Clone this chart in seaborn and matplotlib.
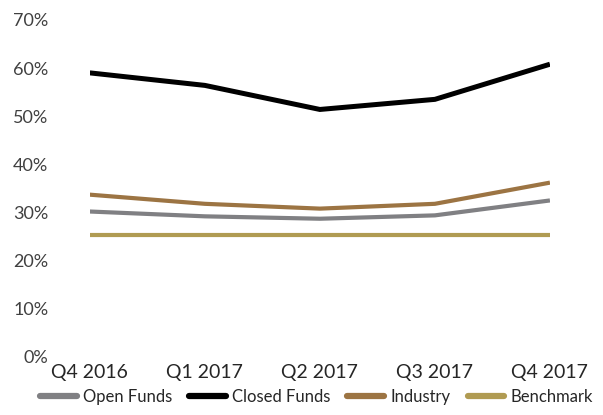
import matplotlib
matplotlib.use("Agg")
import matplotlib.pyplot as plt
import seaborn as sns
import pandas as pd
from matplotlib.ticker import PercentFormatter

quarters = ["Q4 2016", "Q1 2017", "Q2 2017", "Q3 2017", "Q4 2017"]
open_funds = [30.2, 29.2, 28.7, 29.4, 32.5]
closed_funds = [59.0, 56.4, 51.4, 53.5, 60.8]
industry = [33.7, 31.8, 30.8, 31.8, 36.2]
benchmark = [25.4, 25.4, 25.4, 25.4, 25.4]

series_names = ["Open Funds", "Closed Funds", "Industry", "Benchmark"]
series_values = [open_funds, closed_funds, industry, benchmark]
palette = {"Open Funds": "#808083", "Closed Funds": "#000000",
           "Industry": "#9c7443", "Benchmark": "#b09b52"}
widths = {"Open Funds": 3.0, "Closed Funds": 3.6, "Industry": 3.0, "Benchmark": 3.0}

rows = []
for name, vals in zip(series_names, series_values):
    for i, (q, v) in enumerate(zip(quarters, vals)):
        rows.append({"pos": i, "quarter": q, "value": v / 100, "series": name})
df = pd.DataFrame(rows)

sns.set_theme(style="white")
plt.rcParams["font.family"] = ["Lato", "DejaVu Sans"]

fig = plt.figure(figsize=(6.03, 4.15), dpi=100)
ax = fig.add_axes([0.149, 0.14, 0.763, 0.812])

sns.lineplot(data=df, x="pos", y="value", hue="series", hue_order=series_names,
             palette=palette, ax=ax, legend=False, sort=False)
for line, name in zip(ax.lines, series_names):
    line.set_linewidth(widths[name])
    line.set_solid_capstyle("butt")
    line.set_solid_joinstyle("miter")

ax.set_xlim(0, 4)
ax.set_ylim(0, 0.7)
ax.set_yticks([i / 10 for i in range(8)])
ax.yaxis.set_major_formatter(PercentFormatter(1.0, decimals=0))
ax.set_xticks(range(len(quarters)))
ax.set_xticklabels(quarters)
ax.set_xlabel("")
ax.set_ylabel("")
for s in ax.spines.values():
    s.set_visible(False)
ax.tick_params(axis="y", labelsize=13, colors="#404040", pad=30, length=0)
ax.tick_params(axis="x", labelsize=14, colors="#262626", pad=5, length=0)
for lbl in ax.get_yticklabels():
    lbl.set_color("#404040")
for lbl in ax.get_xticklabels():
    lbl.set_color("#262626")

handles = [plt.Line2D([], [], color=palette[n], lw=4.5) for n in series_names]
fig.legend(handles, series_names, loc="lower center", ncol=4,
           bbox_to_anchor=(0.525, -0.012), frameon=False, fontsize=12,
           handlelength=2.2, handletextpad=0.4, columnspacing=1.0,
           labelcolor="#262626")

fig.savefig("out.png", dpi=100)
